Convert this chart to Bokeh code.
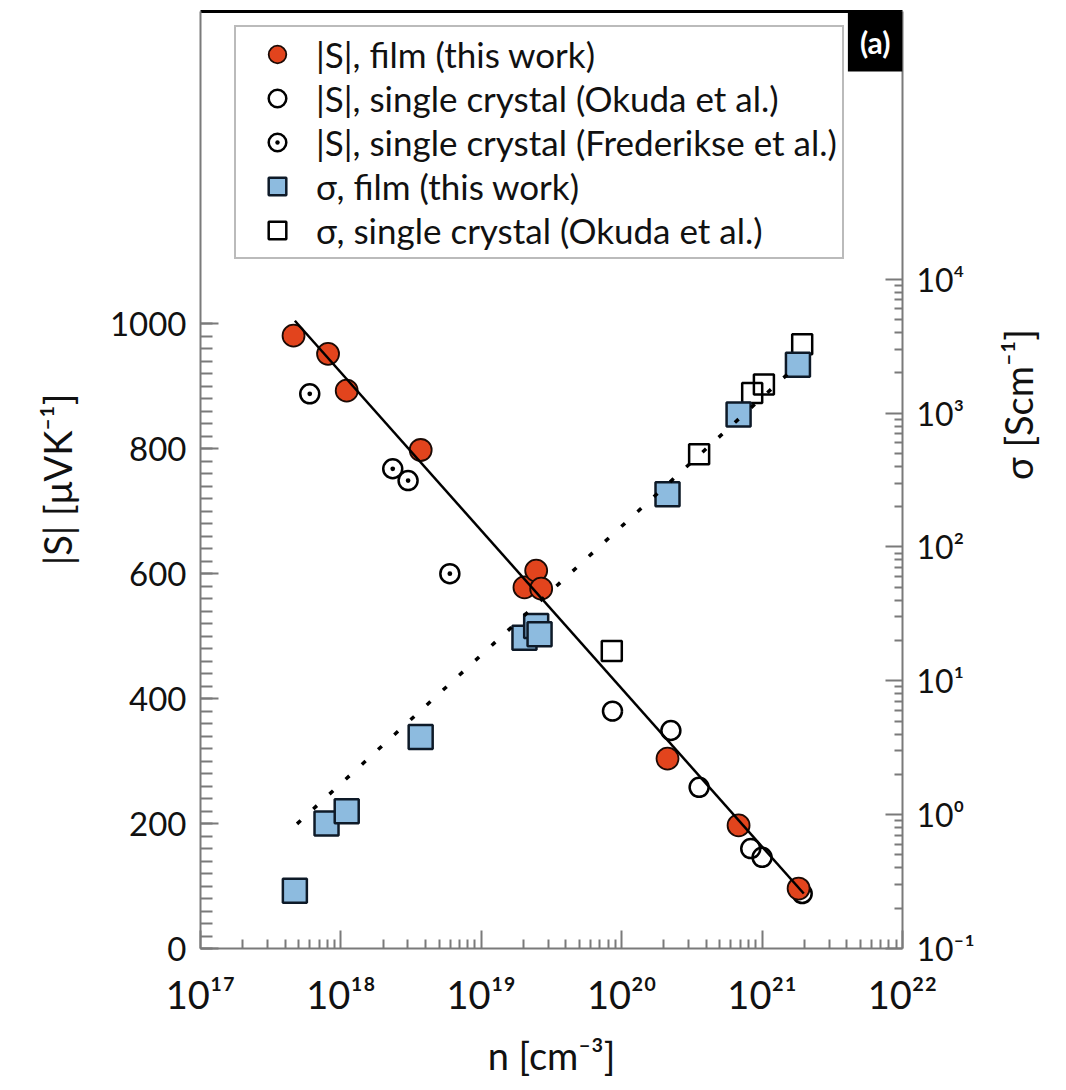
import math
from bokeh.plotting import figure
from bokeh.models import (Range1d, LogScale, LogAxis, LinearAxis, FixedTicker, CustomJSTickFormatter,
                          Legend, LegendItem, Label)
from bokeh.embed import file_html
from bokeh.resources import INLINE

# ---------------- data ----------------
# |S| film (this work)
s_film_n = [4.6e17, 8.1e17, 1.10e18, 3.7e18, 2.03e19, 2.46e19, 2.67e19, 2.12e20, 6.8e20, 1.82e21]
s_film_S = [981, 952, 893, 798, 578, 605, 576, 304, 197, 96]
# |S| single crystal (Okuda et al.)
s_okuda_n = [8.6e19, 2.24e20, 3.56e20, 8.3e20, 1.0e21, 1.93e21]
s_okuda_S = [380, 349, 258, 160, 146, 88]
# |S| single crystal (Frederikse et al.)
s_fred_n = [6.0e17, 2.34e18, 3.01e18, 5.97e18]
s_fred_S = [888, 768, 749, 600]
# sigma film (this work)
sig_film_n = [4.7e17, 7.9e17, 1.10e18, 3.7e18, 2.03e19, 2.46e19, 2.6e19, 2.12e20, 6.8e20, 1.80e21]
sig_film = [0.27, 0.86, 1.06, 3.8, 21, 25.7, 22.3, 247, 977, 2300]
# sigma single crystal (Okuda et al.)
sig_okuda_n = [8.5e19, 3.56e20, 8.5e20, 1.03e21, 1.93e21]
sig_okuda = [16.7, 492, 1415, 1637, 3260]
# fit lines
fit_S_n = [4.7e17, 1.98e21]
fit_S = [1005, 88]
fit_sig_n = [4.87e17, 1.8e21]
fit_sig = [0.853, 2300]

labels = ["|S|, film (this work)",
          "|S|, single crystal (Okuda et al.)",
          "|S|, single crystal (Frederikse et al.)",
          "σ, film (this work)",
          "σ, single crystal (Okuda et al.)"]

FONT = "Lato"
AX = "#7a7a7a"

p = figure(width=1066, height=1090, x_axis_type="log",
           x_range=Range1d(1e17, 1e22), y_range=Range1d(0, 1500),
           output_backend="svg", toolbar_location=None,
           min_border_left=200, min_border_right=162, min_border_top=11, min_border_bottom=142)
p.extra_y_ranges = {"sig": Range1d(1e-1, 1e6)}
p.extra_y_scales = {"sig": LogScale()}
p.grid.visible = False
p.outline_line_color = None
p.background_fill_color = "white"
p.border_fill_color = "white"

sup_js = """
const sup = {'0':'\u2070','1':'\u00b9','2':'\u00b2','3':'\u00b3','4':'\u2074','5':'\u2075',
             '6':'\u2076','7':'\u2077','8':'\u2078','9':'\u2079','-':'\u207b'};
const e = Math.round(Math.log10(tick));
return '10' + String(e).split('').map(c => sup[c]).join('');
"""

# x axis
xa = p.xaxis[0]
xmaj = [10.0**k for k in range(17, 23)]
xmin = [m * 10.0**k for k in range(17, 22) for m in range(2, 10)]
xa.ticker = FixedTicker(ticks=xmaj, minor_ticks=xmin)
xa.formatter = CustomJSTickFormatter(code=sup_js)
xa.axis_label = "n [cm⁻³]"

# left axis
ya = p.yaxis[0]
ya.ticker = FixedTicker(ticks=[0, 200, 400, 600, 800, 1000], minor_ticks=list(range(0, 1001, 20)))
ya.axis_label = "|S| [μVK⁻¹]"

# right axis
ra = LogAxis(y_range_name="sig")
rmaj = [10.0**k for k in range(-1, 5)]
rmin = [m * 10.0**k for k in range(-1, 4) for m in range(2, 10)]
ra.ticker = FixedTicker(ticks=rmaj, minor_ticks=rmin)
ra.formatter = CustomJSTickFormatter(code=sup_js)
ra.axis_label = "σ [Scm⁻¹]"
ra.axis_label_orientation = math.pi / 2
p.add_layout(ra, "right")

for ax, fs, tin, mtin in [(xa, "38px", 18, 9), (ya, "33px", 18, 12), (ra, "32px", 17, 8)]:
    ax.axis_line_color = AX
    ax.axis_line_width = 2
    ax.major_tick_line_color = AX
    ax.minor_tick_line_color = AX
    ax.major_tick_line_width = 2
    ax.minor_tick_line_width = 2
    ax.major_tick_in = tin
    ax.major_tick_out = 0
    ax.minor_tick_in = mtin
    ax.minor_tick_out = 0
    ax.major_label_text_font = FONT
    ax.major_label_text_font_size = fs
    ax.major_label_text_color = "#111111"
    ax.axis_label_text_font = FONT
    ax.axis_label_text_font_size = "38px"
    ax.axis_label_text_font_style = "normal"
    ax.axis_label_text_color = "#111111"

xa.major_label_standoff = 22
xa.axis_label_standoff = 12
ya.major_label_standoff = 14
ya.axis_label_standoff = 27
ra.major_label_standoff = 14
ra.axis_label_standoff = 40

# top black border line
ta = LinearAxis(axis_line_color="black", axis_line_width=3, major_tick_in=0, major_tick_out=0,
                minor_tick_in=0, minor_tick_out=0, major_label_text_font_size="0px",
                major_label_standoff=0, ticker=FixedTicker(ticks=[]))
p.add_layout(ta, "above")

# ---------------- glyphs ----------------
r_sig_ok = p.scatter(sig_okuda_n, sig_okuda, y_range_name="sig", marker="square", size=20,
                     fill_color=None, line_color="black", line_width=2.5)
r_sig_film = p.scatter(sig_film_n, sig_film, y_range_name="sig", marker="square", size=24,
                       fill_color="#8dbbdf", line_color="#0e1a28", line_width=2.5)
r_s_ok = p.scatter(s_okuda_n, s_okuda_S, marker="circle", size=19,
                   fill_color=None, line_color="black", line_width=2.5)
r_s_fred = p.scatter(s_fred_n, s_fred_S, marker="circle_dot", size=19,
                     fill_color=None, line_color="black", line_width=2.5)
r_s_film = p.scatter(s_film_n, s_film_S, marker="circle", size=22,
                     fill_color="#e2441d", line_color="#1a0a05", line_width=1.8)

p.line(fit_S_n, fit_S, line_color="black", line_width=2.5)
p.line(fit_sig_n, fit_sig, y_range_name="sig", line_color="black", line_width=3.5, line_dash="5 17")

legend = Legend(items=[LegendItem(label=labels[0], renderers=[r_s_film]),
                       LegendItem(label=labels[1], renderers=[r_s_ok]),
                       LegendItem(label=labels[2], renderers=[r_s_fred]),
                       LegendItem(label=labels[3], renderers=[r_sig_film]),
                       LegendItem(label=labels[4], renderers=[r_sig_ok])],
                location=(34, 689))
legend.label_text_font = FONT
legend.label_text_font_size = "35px"
legend.label_text_color = "#111111"
legend.glyph_width = 72
legend.glyph_height = 44
legend.label_height = 44
legend.label_standoff = 3
legend.spacing = 0
legend.padding = 5
legend.margin = 0
legend.border_line_color = "#777777"
legend.border_line_width = 2
legend.background_fill_color = "white"
legend.background_fill_alpha = 1
p.add_layout(legend, "center")

tag = Label(x=1e22, y=1500, text="(a)", text_align="right", text_baseline="top",
            text_font=FONT, text_font_size="30px", text_font_style="bold", text_color="white",
            background_fill_color="black", padding=12, level="overlay")
p.add_layout(tag)

open("out.html", "w").write(file_html(p, INLINE))
